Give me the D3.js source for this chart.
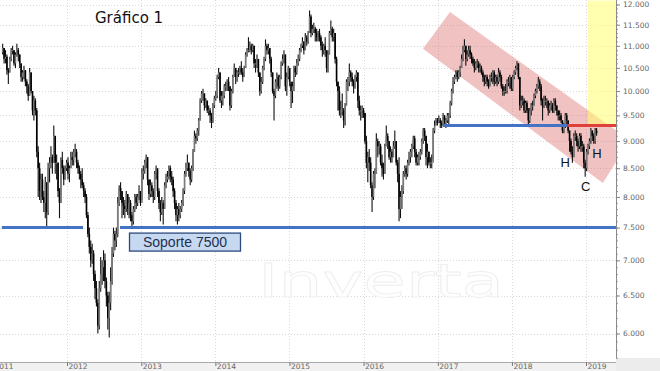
<!DOCTYPE html>
<html>
<head>
<meta charset="utf-8">
<script src="https://cdn.jsdelivr.net/npm/d3@7"></script>
<style>
  html, body { margin: 0; padding: 0; background: #fff; }
  svg { display: block; }
  .grid line { stroke: #d9d9d9; stroke-dasharray: 1,2; }
  .yaxis text, .xaxis text { font-family: "DejaVu Sans", sans-serif; font-size: 7.5px; fill: #666; }
</style>
</head>
<body>
<div id="chart"></div>
<script>
// Weekly bars [close, high, low], one array per year, first Friday given in weekStarts
const w2011 = [
  [10950,11050,10800],[10700,10950,10600],[10750,10900,10600],[10450,10800,10350],[10400,10500,10150],
  [10700,10750,10400],[10900,10950,10650],[10900,11000,10800],[10600,10900,10550],[10800,10850,10500],
  [10900,11050,10750],[10800,10950,10650],[10600,10800,10500],[10300,10600,10200],[10400,10450,10200],
  [10450,10550,10250],[10200,10450,10100],[10100,10250,9950],[9900,10150,9800],[10400,10500,9900],
  [10000,10400,9950],[9600,10000,9500],[9800,9900,9400],[9600,9850,9500],[8800,9650,8700],
  [8500,8900,8000],[8100,8600,7950],[8300,8400,7900],[8000,8400,7950],[7900,8100,7750],
  [8250,8350,7650],[7750,8250,7500],[8500,8600,7700],[8600,8700,8250],[8700,8900,8500],
  [8600,8750,8400],[9100,9300,8600],[8600,9050,8400],[8600,8750,8300],[8100,8600,8000],
  [7900,8150,7650],[8650,8700,7900],[8500,8800,8400],[8300,8550,8200],[8500,8550,8300],
  [8600,8650,8450]
];
const w2012 = [
  [8400,8700,8300],[8500,8550,8250],[8700,8800,8500],[8650,8800,8550],[8800,8850,8550],
  [8800,8950,8700],[8600,8850,8500],[8500,8650,8400],[8400,8550,8300],[8300,8450,8150],
  [8200,8500,8150],[8100,8250,8000],[8000,8150,7900],[7700,8050,7650],[7400,7750,7350],
  [7200,7500,7100],[7000,7300,6900],[7100,7250,6950],[6800,7150,6700],[6600,6850,6450],
  [6400,6700,6350],[6100,6450,6000],[6600,6700,6050],[6800,7050,6550],[6900,7000,6650],
  [7000,7150,6700],[6700,7100,6600],[6500,6750,6350],[6200,6550,6050],[6400,6550,5950],
  [6700,6900,6300],[7100,7200,6650],[7400,7500,7050],[7300,7450,7150],[7400,7500,7200],
  [7900,8000,7350],[8150,8200,7850],[8100,8250,7950],[7900,8100,7650],[7850,8000,7700],
  [7800,7950,7650],[8050,8100,7750],[7800,8050,7700],[7900,8000,7650],[7700,7950,7600],
  [7600,7750,7500],[7800,7850,7550],[8000,8050,7750],[7900,8050,7800],[8000,8050,7850],
  [8100,8200,7950],[7900,8100,7850]
];
const w2013 = [
  [8400,8500,7950],[8450,8550,8300],[8600,8650,8400],[8700,8750,8500],[8300,8700,8200],
  [8050,8300,7950],[8200,8300,8000],[8100,8250,8000],[8000,8150,7900],[8400,8450,7950],
  [8500,8550,8300],[8100,8450,8000],[7900,8150,7800],[7750,7950,7600],[7900,8000,7700],
  [7800,7950,7550],[8200,8250,7800],[8300,8400,8150],[8350,8450,8250],[8500,8550,8300],
  [8350,8550,8250],[8300,8450,8200],[8100,8350,8000],[7900,8150,7800],[7700,7950,7600],
  [7800,7850,7550],[7700,7900,7600],[7800,7850,7650],[7900,7950,7750],[8100,8150,7850],
  [8400,8450,8050],[8500,8600,8350],[8600,8750,8450],[8450,8600,8350],[8300,8500,8200],
  [8500,8550,8250],[8800,8850,8450],[9100,9200,8800],[9050,9150,8950],[9200,9250,9000],
  [9400,9450,9100],[9800,9850,9400],[9950,10000,9750],[9950,10050,9800],[9700,9950,9600],
  [9800,9850,9650],[9600,9800,9550],[9600,9700,9500],[9500,9650,9350],[9400,9550,9250],
  [9700,9750,9350],[9850,9900,9650]
];
const w2014 = [
  [9900,10000,9800],[10300,10350,9850],[10400,10500,10250],[9800,10400,9750],[9900,10000,9650],
  [9900,10000,9700],[10100,10150,9850],[10100,10200,10000],[10200,10250,10000],[10100,10300,10000],
  [9700,10100,9600],[10000,10050,9650],[10300,10350,9950],[10500,10600,10300],[10300,10500,10150],
  [10400,10450,10200],[10400,10500,10300],[10500,10550,10350],[10400,10650,10350],[10300,10500,10200],
  [10500,10550,10300],[10800,10850,10500],[10900,10950,10750],[10900,11200,10850],[11000,11100,10850],
  [10900,11050,10800],[11000,11050,10850],[10600,11000,10500],[10600,10700,10400],[10700,10800,10500],
  [10400,10700,10300],[10000,10400,9900],[10200,10300,9950],[10500,10550,10150],[10700,10750,10450],
  [11000,11150,10650],[10900,11050,10800],[10950,11050,10800],[10700,10950,10600],[10400,10750,10300],
  [10000,10400,9950],[9900,10050,9400],[10200,10250,9850],[10300,10400,10050],[10100,10350,10000],
  [10300,10350,10050],[10600,10650,10250],[10700,10800,10550],[10800,10900,10600],[10100,10800,10000],
  [10300,10400,9900],[10500,10550,10250]
];
const w2015 = [
  [10200,10500,10100],[10000,10150,9650],[10100,10200,9750],[10500,10550,10000],[10400,10550,10300],
  [10600,10700,10350],[10700,10800,10550],[10900,10950,10650],[11000,11050,10850],[11100,11200,10950],
  [10900,11100,10800],[11200,11300,10900],[11100,11250,11000],[11300,11350,11050],[11700,11850,11300],
  [11300,11750,11200],[11400,11500,11250],[11400,11550,11300],[11300,11450,11100],[11200,11400,11100],
  [11300,11350,11100],[11200,11400,11100],[11000,11250,10900],[10900,11100,10750],[11000,11050,10800],
  [10900,11200,10750],[10500,10850,10400],[10800,10900,10400],[11300,11350,10800],[11400,11600,11250],
  [11200,11450,11100],[11300,11400,11100],[10700,11300,10600],[10200,10750,10100],[10000,10200,9600],
  [9600,10100,9500],[9600,9800,9450],[9600,9950,9500],[9400,9650,9250],[9700,9750,9300],
  [10200,10250,9700],[10200,10300,10000],[10400,10600,10100],[10300,10450,10200],[10200,10400,10100],
  [10100,10250,9950],[10300,10350,10050],[10400,10450,10200],[9800,10400,9650],[9600,9900,9500],
  [9600,9700,9400],[9600,9700,9450]
];
const w2016 = [
  [9550,9650,9450],[9000,9550,8950],[8600,9100,8500],[8700,8800,8250],[8600,8850,8450],
  [8200,8700,8150],[8000,8250,7750],[8400,8450,7950],[8400,8500,8150],[9000,9150,8400],
  [8900,9050,8700],[8900,9000,8750],[8600,8950,8550],[8500,8750,8350],[8400,8600,8300],
  [8900,8950,8400],[9100,9300,8900],[9000,9150,8850],[8700,9000,8650],[8800,8900,8600],
  [8700,8850,8600],[8900,9000,8700],[9000,9200,8850],[8600,9000,8550],[8400,8650,8250],
  [7800,8700,7600],[8000,8100,7650],[8100,8200,7800],[8400,8450,8050],[8500,8550,8350],
  [8400,8550,8300],[8600,8650,8350],[8700,8800,8550],[8800,8850,8600],[8900,8950,8700],
  [9050,9100,8850],[8800,9100,8700],[8600,8850,8550],[8700,8750,8550],[8700,8800,8550],
  [8800,8850,8650],[9000,9050,8750],[9200,9250,8950],[9100,9250,9000],[8700,9100,8550],
  [8800,8950,8500],[8600,8800,8550],[8600,8700,8500],[8600,8750,8500],[9200,9250,8650],
  [9300,9400,9150],[9400,9450,9300],[9350,9450,9300]
];
const w2017 = [
  [9400,9500,9350],[9350,9450,9250],[9300,9400,9250],[9500,9550,9300],[9400,9500,9300],
  [9400,9450,9250],[9500,9550,9350],[9500,9550,9300],[9750,9800,9450],[10000,10050,9700],
  [10200,10300,9950],[10300,10350,10150],[10400,10450,10250],[10300,10450,10200],[10400,10450,10250],
  [10500,10550,10300],[10700,10800,10500],[10900,11000,10650],[11000,11150,10850],[10700,11000,10550],
  [10800,10900,10650],[10900,11000,10750],[10800,11000,10700],[10700,10850,10600],[10600,10750,10550],
  [10500,10700,10400],[10600,10650,10450],[10600,10700,10500],[10500,10650,10400],[10500,10600,10400],
  [10400,10550,10350],[10300,10450,10200],[10200,10350,10100],[10300,10350,10150],[10200,10350,10100],
  [10100,10250,10050],[10300,10350,10100],[10300,10400,10200],[10400,10450,10150],[10200,10450,10100],
  [10300,10350,10150],[10200,10350,10100],[10400,10500,10150],[10300,10450,10200],[10100,10350,10050],
  [10000,10150,9900],[10000,10100,9900],[10000,10150,9950],[10200,10250,9950],[10200,10300,10100],
  [10300,10350,10050],[10050,10300,10000]
];
const w2018 = [
  [10300,10350,10000],[10400,10450,10250],[10500,10550,10350],[10600,10650,10450],[10300,10600,10250],
  [9700,10300,9600],[9800,9900,9650],[9800,9900,9700],[9600,9850,9550],[9750,9800,9550],
  [9600,9800,9550],[9400,9650,9300],[9600,9650,9350],[9700,9750,9500],[9700,9800,9600],
  [9900,9950,9700],[10000,10050,9850],[10100,10150,9950],[10200,10300,10050],[10100,10250,10000],
  [9800,10150,9700],[9700,9850,9400],[9800,9900,9650],[9800,9900,9700],[9800,9850,9650],
  [9600,9800,9500],[9700,9750,9550],[9700,9800,9600],[9600,9750,9550],[9800,9850,9550],
  [9700,9850,9600],[9600,9700,9500],[9500,9600,9400],[9500,9600,9400],[9400,9550,9350],
  [9200,9400,9150],[9300,9350,9150],[9500,9550,9250],[9400,9550,9300],[9200,9400,9150],
  [9000,9200,8800],[8800,9050,8750],[8700,8900,8600],[9100,9150,8700],[9100,9200,9000],
  [9000,9150,8900],[8900,9050,8800],[9100,9150,8850],[8900,9150,8800],[8900,9000,8800],
  [8600,8950,8500],[8500,8650,8350]
];
const w2019 = [
  [8800,8850,8450],[8900,8950,8750],[9000,9050,8850],[9200,9250,8950],[9100,9200,9000],
  [9000,9150,8950],[9200,9250,8950],[9150,9250,9100]
];
const weekStarts = ["2011-02-18", "2012-01-06", "2013-01-04", "2014-01-03", "2015-01-02",
                    "2016-01-01", "2017-01-06", "2018-01-05", "2019-01-04"];
const weekBlocks = [w2011, w2012, w2013, w2014, w2015, w2016, w2017, w2018, w2019];
const prevClose = 10850; // week before the first bar

// axis ticks
const priceTicks = [6000, 6500, 7000, 7500, 8000, 8500, 9000, 9500, 10000, 10500, 11000, 11500, 12000];
const yearTicks = [2011, 2012, 2013, 2014, 2015, 2016, 2017, 2018, 2019];

// annotations (date, value)
const supportLevel = 7500;
const supportSegments = [["2011-02-14", "2012-03-20"], ["2012-09-18", "2019-06-30"]];
const neckLevel = 9300;
const neckBlue = ["2017-01-26", "2018-10-03"];
const neckRed = ["2018-10-03", "2019-06-30"];
const channel = [["2016-10-20", 10930], ["2017-03-02", 11810], ["2019-08-05", 9020], ["2019-03-25", 8240]];
const yellowBand = ["2019-01-10", "2019-06-30", 9300, 12100];
const patternLabels = [["H", "2018-09-20", 8520], ["C", "2018-12-31", 8100], ["H", "2019-02-24", 8690]];

const width = 660, height = 371;
const plot = { left: 0, right: 616, top: 0, bottom: 362 };

const parse = d3.utcParse("%Y-%m-%d");
const bars = [];
let last = prevClose;
weekBlocks.forEach((block, i) => {
  const t0 = parse(weekStarts[i]);
  block.forEach(([c, h, l], k) => {
    bars.push({ date: d3.utcDay.offset(t0, 7 * k), open: last, close: c, high: h, low: l });
    last = c;
  });
});

const x = d3.scaleUtc()
  .domain([new Date(Date.UTC(2012, 0, 1)), new Date(Date.UTC(2019, 0, 1))])
  .range([67, 586]);
const y = d3.scaleLog()
  .domain([6000, 12000])
  .range([333.5, 4.5]);

const fmt = d3.formatLocale({ decimal: ",", thousands: ".", grouping: [3], currency: ["", " €"] }).format(",");

const svg = d3.select("#chart").append("svg")
  .attr("width", width).attr("height", height)
  .attr("viewBox", `0 0 ${width} ${height}`);

svg.append("defs").append("clipPath").attr("id", "clip")
  .append("rect").attr("x", plot.left).attr("y", plot.top)
  .attr("width", plot.right - plot.left).attr("height", plot.bottom - plot.top);

// bottom strip + bottom-right corner
svg.append("rect").attr("x", 0).attr("y", plot.bottom).attr("width", width).attr("height", height - plot.bottom).attr("fill", "#f1f1f1");
svg.append("rect").attr("x", plot.right).attr("y", 358).attr("width", width - plot.right).attr("height", height - 358).attr("fill", "#ececec");

const g = svg.append("g").attr("clip-path", "url(#clip)");

// gridlines
const grid = g.append("g").attr("class", "grid");
grid.selectAll(".h").data(priceTicks).join("line")
  .attr("x1", plot.left).attr("x2", plot.right)
  .attr("y1", d => Math.round(y(d)) + 0.5).attr("y2", d => Math.round(y(d)) + 0.5);
grid.selectAll(".v").data(yearTicks).join("line")
  .attr("x1", d => Math.round(x(new Date(Date.UTC(d, 0, 1)))) + 0.5)
  .attr("x2", d => Math.round(x(new Date(Date.UTC(d, 0, 1)))) + 0.5)
  .attr("y1", plot.top).attr("y2", plot.bottom);

// watermark
g.append("text")
  .attr("x", 258).attr("y", 297)
  .attr("textLength", 246).attr("lengthAdjust", "spacingAndGlyphs")
  .attr("font-family", "DejaVu Sans, sans-serif").attr("font-size", 46)
  .attr("fill", "#fefefe").attr("stroke", "#efefef").attr("stroke-width", 0.8)
  .text("Inverta");

// descending channel
g.append("polygon")
  .attr("points", channel.map(([d, v]) => [x(parse(d)), y(v)].join(",")).join(" "))
  .attr("fill", "rgb(222,110,110)").attr("fill-opacity", 0.42);

// yellow band
g.append("rect")
  .attr("x", x(parse(yellowBand[0])))
  .attr("y", y(yellowBand[3]))
  .attr("width", x(parse(yellowBand[1])) - x(parse(yellowBand[0])))
  .attr("height", y(yellowBand[2]) - y(yellowBand[3]))
  .attr("fill", "rgb(255,255,110)").attr("fill-opacity", 0.55);

// candles
const candles = g.append("g");
candles.selectAll("line").data(bars).join("line")
  .attr("x1", d => x(d.date)).attr("x2", d => x(d.date))
  .attr("y1", d => y(d.high)).attr("y2", d => y(d.low))
  .attr("stroke", "#111").attr("stroke-width", 1.1);
candles.selectAll("rect").data(bars).join("rect")
  .attr("x", d => x(d.date) - 0.8)
  .attr("width", 1.6)
  .attr("y", d => y(Math.max(d.open, d.close)))
  .attr("height", d => Math.max(1, Math.abs(y(d.open) - y(d.close))))
  .attr("fill", d => d.close >= d.open ? "#7a7a7a" : "#000");

// horizontal levels
const hline = (from, to, level, color) => g.append("line")
  .attr("x1", x(parse(from))).attr("x2", x(parse(to)))
  .attr("y1", y(level)).attr("y2", y(level))
  .attr("stroke", color).attr("stroke-width", 3);
supportSegments.forEach(([a, b]) => hline(a, b, supportLevel, "#4472c4"));
hline(neckBlue[0], neckBlue[1], neckLevel, "#4472c4");
hline(neckRed[0], neckRed[1], neckLevel, "#e0403a");

// support label box
const box = svg.append("g");
box.append("rect")
  .attr("x", 129.5).attr("y", y(supportLevel) + 5.5)
  .attr("width", 111).attr("height", 18)
  .attr("fill", "#c6d9f1").attr("stroke", "#2e4a7d").attr("stroke-width", 1.3);
box.append("text")
  .attr("x", 185).attr("y", y(supportLevel) + 19.5)
  .attr("text-anchor", "middle")
  .attr("font-family", "Liberation Sans Narrow, Liberation Sans, Arial, sans-serif")
  .attr("font-size", 14).attr("fill", "#1f2f50")
  .text("Soporte 7500");

// pattern labels
svg.selectAll(".pl").data(patternLabels).join("text")
  .attr("x", d => x(parse(d[1]))).attr("y", d => y(d[2]))
  .attr("text-anchor", "middle")
  .attr("font-family", "Liberation Sans, Arial, sans-serif").attr("font-size", 13)
  .attr("fill", "#111")
  .text(d => d[0]);

// title
svg.append("text")
  .attr("x", 95).attr("y", 23)
  .attr("font-family", "DejaVu Sans, Verdana, sans-serif").attr("font-size", 15)
  .attr("fill", "#111")
  .text("Gráfico 1");

// right axis
const minorTicks = d3.range(5700, 12001, 100);
svg.append("g")
  .attr("transform", `translate(${plot.right},0)`)
  .call(d3.axisRight(y).tickValues(minorTicks).tickSize(2).tickFormat(""))
  .call(s => s.select(".domain").remove())
  .selectAll("line").attr("stroke", "#999");
const yAxis = svg.append("g")
  .attr("class", "yaxis")
  .attr("transform", `translate(${plot.right},0)`)
  .call(d3.axisRight(y).tickValues(priceTicks).tickSize(4).tickPadding(3).tickFormat(fmt));
yAxis.select(".domain").remove();
yAxis.selectAll("line").attr("stroke", "#888");
svg.append("line")
  .attr("x1", plot.right + 0.5).attr("x2", plot.right + 0.5)
  .attr("y1", 0).attr("y2", 358)
  .attr("stroke", "#8a8a8a");

// bottom axis
svg.append("line")
  .attr("x1", 0).attr("x2", plot.right)
  .attr("y1", plot.bottom + 0.5).attr("y2", plot.bottom + 0.5)
  .attr("stroke", "#a8a8a8");
const xAxis = svg.append("g")
  .attr("class", "xaxis")
  .attr("transform", `translate(0,${plot.bottom})`)
  .call(d3.axisBottom(x)
    .tickValues(yearTicks.map(d => new Date(Date.UTC(d, 0, 1))))
    .tickSize(4)
    .tickFormat(d3.utcFormat("%Y")));
xAxis.select(".domain").remove();
xAxis.selectAll("line").attr("stroke", "#777");
xAxis.selectAll("text")
  .attr("text-anchor", "start")
  .attr("dx", 1)
  .attr("y", 2)
  .attr("dy", "0.71em");
</script>
</body>
</html>
